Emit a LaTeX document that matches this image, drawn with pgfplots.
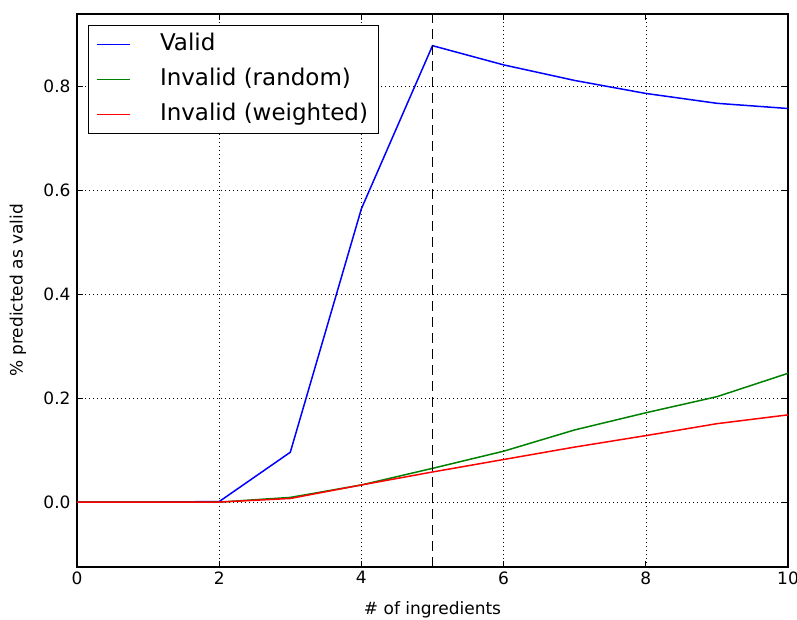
\documentclass[border=0pt]{standalone}
\usepackage{fontspec}
\setmainfont{DejaVu Sans}
\usepackage{pgfplots}
\pgfplotsset{compat=1.18}
\begin{document}
\begin{tikzpicture}
\begin{axis}[
  at={(0,0)}, anchor=south west,
  scale only axis, width=711bp, height=553bp,
  xmin=0, xmax=10, ymin=-0.125, ymax=0.94,
  xtick={0,2,4,6,8,10}, ytick={0,0.2,0.4,0.6,0.8},
  /pgf/number format/assume math mode=true,
  yticklabel style={/pgf/number format/fixed, /pgf/number format/fixed zerofill, /pgf/number format/precision=1, xshift=-3bp},
  xticklabel style={yshift=-1bp},
  ticklabel style={font=\fontsize{17bp}{20bp}\selectfont},
  grid=major,
  major grid style={black, line width=0.6bp, dash pattern=on 1bp off 3bp},
  tick align=inside, tick pos=both, major tick length=6bp,
  every tick/.style={black, line width=0.8bp},
  axis line style={black, line width=1.2bp},
  xlabel={\# of ingredients},
  ylabel={\% predicted as valid},
  every axis x label/.style={at={(axis description cs:0.5,0)}, anchor=center, yshift=-43bp, font=\fontsize{17bp}{20bp}\selectfont},
  every axis y label/.style={at={(axis description cs:0,0.5)}, xshift=-59bp, rotate=90, anchor=center, font=\fontsize{17bp}{20bp}\selectfont},
  legend style={at={(axis description cs:0,1)}, anchor=north west, xshift=11bp, yshift=-11bp,
    draw=black, line width=1bp, fill=white,
    font=\fontsize{23bp}{27bp}\selectfont,
    nodes={text height=17bp, text depth=5bp, inner sep=2bp},
    row sep=9bp, inner xsep=8bp, inner ysep=6bp},
  legend cell align=left,
  legend image code/.code={\draw[#1, line width=1.5bp] (0bp,0bp) -- (33bp,0bp);},
]
\addplot[blue, line width=1.5bp] coordinates {
(0,0) (1,0) (2,0.001) (3,0.096) (4,0.565) (5,0.879) (6,0.842) (7,0.812) (8,0.787) (9,0.768) (10,0.758)};
\addlegendentry{\hspace{27bp}Valid}
\addplot[green!50!black, line width=1.5bp] coordinates {
(0,0) (1,0) (2,0) (3,0.009) (4,0.033) (5,0.065) (6,0.098) (7,0.139) (8,0.172) (9,0.203) (10,0.248)};
\addlegendentry{\hspace{27bp}Invalid (random)}
\addplot[red, line width=1.5bp] coordinates {
(0,0) (1,0) (2,0) (3,0.007) (4,0.033) (5,0.058) (6,0.082) (7,0.106) (8,0.128) (9,0.151) (10,0.168)};
\addlegendentry{\hspace{27bp}Invalid (weighted)}
\addplot[black, line width=1.5bp, dash pattern=on 10bp off 6bp, forget plot] coordinates {(5,-0.125) (5,0.94)};
\end{axis}
\pgfresetboundingbox
\path[use as bounding box] (-77bp,-53bp) rectangle (720bp,567bp);
\end{tikzpicture}
\end{document}
